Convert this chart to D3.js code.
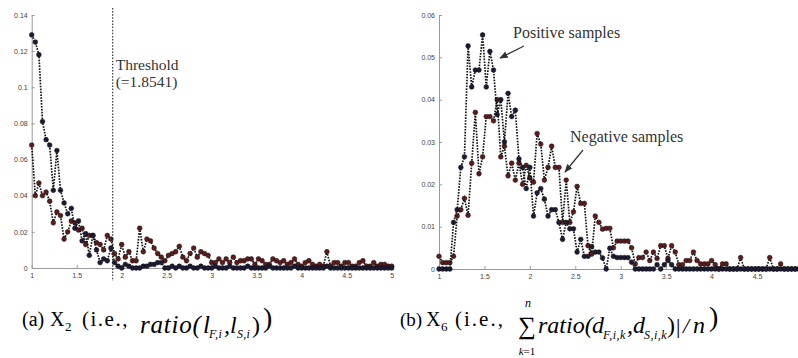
<!DOCTYPE html>
<html><head><meta charset="utf-8">
<script src="https://cdn.jsdelivr.net/npm/d3@7"></script>
<style>body{margin:0;background:#fff}svg{display:block}</style>
</head><body>
<svg id="c" width="798" height="358"></svg>
<script>
// ---------- Panel (a) data : X2 ----------
const xStartA = 1, xStepA = 0.04;
const seriesA1 = [0.129,0.125,0.118,0.081,0.071,0.068,0.043,0.065,0.043,0.036,
  0.030,0.033,0.022,0.026,0.015,0.019,0.007,0.018,0.010,0.003,
  0.005,0.004,0.011,0.003,0.001,0.000,0.002,0.001,0.000,0.000,
  0.000,0.001,0.001,0.002,0.002,0.003,0.003,0.000,0.000,0.001,
  0.000,0.001,0.000,0.000,0.001,0.000,0.000,0.001,0.000,0.000,
  0.000,0.001,0.000,0.000,0.000,0.001,0.000,0.000,0.000,0.000,
  0.001,0.000,0.000,0.000,0.000,0.000,0.001,0.000,0.000,0.000,
  0.000,0.000,0.000,0.001,0.000,0.000,0.000,0.000,0.000,0.000,
  0.000,0.000,0.001,0.000,0.000,0.000,0.000,0.000,0.000,0.000,
  0.000,0.000,0.000,0.000,0.000,0.000,0.000,0.000,0.000,0.000,0.000];
const seriesA2 = [0.068,0.040,0.047,0.040,0.042,0.037,0.025,0.031,0.029,0.016,
  0.020,0.026,0.025,0.021,0.022,0.013,0.018,0.018,0.014,0.013,
  0.010,0.018,0.016,0.008,0.005,0.013,0.006,0.009,0.004,0.004,
  0.022,0.009,0.016,0.015,0.011,0.008,0.006,0.004,0.007,0.008,
  0.009,0.012,0.006,0.004,0.008,0.011,0.006,0.009,0.008,0.007,
  0.003,0.003,0.005,0.003,0.005,0.003,0.006,0.003,0.004,0.004,
  0.005,0.005,0.002,0.005,0.004,0.002,0.002,0.005,0.004,0.003,
  0.004,0.002,0.003,0.005,0.002,0.001,0.003,0.004,0.002,0.001,
  0.002,0.001,0.009,0.001,0.003,0.003,0.001,0.003,0.003,0.001,
  0.001,0.003,0.004,0.001,0.001,0.003,0.001,0.002,0.002,0.001,0.001];
const xTicksA = [1,1.5,2,2.5,3,3.5,4,4.5,5];
const xTickLabelsA = ["1","1.5","2","2.5","3","3.5","4","4.5","5"];
const yTicksA = [0,0.02,0.04,0.06,0.08,0.1,0.12,0.14];
const yTickLabelsA = ["0","0.02","0.04","0.06","0.08","0.1","0.12","0.14"];
const thresholdPos = 1.9;
const thresholdLabel = ["Threshold","(=1.8541)"];

// ---------- Panel (b) data : X6 ----------
const xStartB = 1, xStepB = 0.04;
const positiveB = [0.000,0.000,0.000,0.000,0.011,0.014,0.024,0.0265,0.0527,0.043,
  0.047,0.047,0.0553,0.043,0.0514,0.047,0.0365,0.040,0.030,0.0415,
  0.036,0.0375,0.026,0.024,0.019,0.024,0.0125,0.018,0.019,0.0165,
  0.0125,0.014,0.014,0.011,0.007,0.011,0.0095,0.0095,0.004,0.007,
  0.003,0.003,0.0053,0.004,0.004,0.0026,0.000,0.0049,0.003,0.0027,
  0.0027,0.0027,0.0027,0.0016,0.000,0.000,0.000,0.000,0.000,0.000,
  0.001,0.000,0.001,0.002,0.001,0.000,0.000,0.000,0.000,0.000,
  0.000,0.000,0.000,0.000,0.000,0.000,0.000,0.000,0.000,0.000,
  0.000,0.000,0.000,0.000,0.000,0.000,0.000,0.000,0.000,0.000,
  0.000,0.000,0.000,0.000,0.000,0.000,0.000,0.000,0.000,0.000];
const negativeB = [0.003,0.0015,0.0015,0.0015,0.003,0.0125,0.014,0.0167,0.0127,0.025,
  0.037,0.0225,0.0265,0.036,0.036,0.035,0.040,0.0265,0.029,0.022,
  0.025,0.021,0.025,0.020,0.0245,0.0215,0.0205,0.032,0.0295,0.021,
  0.024,0.029,0.024,0.024,0.011,0.021,0.011,0.0135,0.0195,0.0155,
  0.0155,0.0055,0.0035,0.0125,0.011,0.0094,0.0096,0.0096,0.005,0.0066,
  0.0066,0.0066,0.0066,0.005,0.0012,0.0027,0.0027,0.004,0.002,0.004,
  0.0025,0.0055,0.0055,0.0025,0.0055,0.004,0.001,0.001,0.002,0.002,
  0.004,0.002,0.0012,0.0012,0.0012,0.002,0.001,0.000,0.0012,0.0012,
  0.000,0.000,0.000,0.0027,0.000,0.000,0.000,0.000,0.000,0.000,
  0.000,0.0027,0.000,0.000,0.0012,0.000,0.000,0.000,0.000,0.000];
const xTicksB = [1,1.5,2,2.5,3,3.5,4,4.5];
const xTickLabelsB = ["1","1.5","2","2.5","3","3.5","4","4.5"];
const yTicksB = [0,0.01,0.02,0.03,0.04,0.05,0.06];
const yTickLabelsB = ["0","0.01","0.02","0.03","0.04","0.05","0.06"];
const annotB = ["Positive samples","Negative samples"];

// ---------- drawing ----------
const svg = d3.select("#c");
const serif = "'Liberation Serif','Times New Roman',serif";
const sans = "'Liberation Sans',Arial,sans-serif";
const colDark = "#1d1b33", colRed = "#5e1a1c";

function panel(opt){
  const g = svg.append("g");
  const x = d3.scaleLinear().domain(opt.xDomain).range(opt.xRange);
  const y = d3.scaleLinear().domain(opt.yDomain).range(opt.yRange);
  const ax = g.append("g").attr("transform",`translate(0,${opt.yRange[0]})`)
    .call(d3.axisBottom(x).tickValues(opt.xTicks).tickFormat((d,i)=>opt.xLabels[i]).tickSizeInner(-3).tickSizeOuter(0).tickPadding(5));
  const ay = g.append("g").attr("transform",`translate(${opt.xRange[0]},0)`)
    .call(d3.axisLeft(y).tickValues(opt.yTicks).tickFormat((d,i)=>opt.yLabels[i]).tickSizeInner(-3).tickSizeOuter(0).tickPadding(4));
  [ax,ay].forEach(a=>{
    a.select(".domain").attr("stroke","#9a9a9a").attr("stroke-width",1);
    a.selectAll(".tick line").attr("stroke","#9a9a9a");
    a.selectAll("text").attr("font-family",sans).attr("font-size",7).attr("fill","#444");
  });
  const line = d3.line().x(d=>x(d[0])).y(d=>y(d[1]));
  opt.series.forEach(s=>{
    const pts = s.values.map((v,i)=>[opt.xStart+i*opt.xStep, v]);
    g.append("path").datum(pts).attr("d",line).attr("fill","none")
      .attr("stroke","#111").attr("stroke-width",1.7).attr("stroke-dasharray","1.6,1.3");
    g.selectAll(null).data(pts).enter().append("circle")
      .attr("cx",d=>x(d[0])).attr("cy",d=>y(d[1])).attr("r",2.4)
      .attr("fill",s.color).attr("stroke","#111").attr("stroke-width",0.5);
  });
  return {g,x,y};
}

const A = panel({xDomain:[1,5], xRange:[31.7,391.7], yDomain:[0,0.14], yRange:[268,15],
  xTicks:xTicksA, xLabels:xTickLabelsA, yTicks:yTicksA, yLabels:yTickLabelsA,
  xStart:xStartA, xStep:xStepA,
  series:[{values:seriesA2,color:colRed},{values:seriesA1,color:colDark}]});

A.g.append("line").attr("x1",A.x(thresholdPos)).attr("x2",A.x(thresholdPos))
  .attr("y1",8).attr("y2",281).attr("stroke","#222").attr("stroke-width",1.1)
  .attr("stroke-dasharray","1.5,1.6");
A.g.append("text").attr("x",A.x(thresholdPos)+3).attr("y",70).text(thresholdLabel[0])
  .attr("font-family",serif).attr("font-size",15.5).attr("fill","#333");
A.g.append("text").attr("x",A.x(thresholdPos)+3).attr("y",87).text(thresholdLabel[1])
  .attr("font-family",serif).attr("font-size",15.5).attr("fill","#333");

const B = panel({xDomain:[1,4.96], xRange:[439,798.8], yDomain:[0,0.06], yRange:[269,15],
  xTicks:xTicksB, xLabels:xTickLabelsB, yTicks:yTicksB, yLabels:yTickLabelsB,
  xStart:xStartB, xStep:xStepB,
  series:[{values:negativeB,color:colRed},{values:positiveB,color:colDark}]});

svg.append("defs").append("marker").attr("id","ah").attr("viewBox","0 0 10 10")
  .attr("refX",9).attr("refY",5).attr("markerWidth",7).attr("markerHeight",7).attr("orient","auto")
  .append("path").attr("d","M0,1 L10,5 L0,9 Z").attr("fill","#333");
B.g.append("text").attr("x",513).attr("y",38).text(annotB[0])
  .attr("font-family",serif).attr("font-size",16).attr("fill","#333");
B.g.append("line").attr("x1",524).attr("y1",46).attr("x2",500).attr("y2",58)
  .attr("stroke","#333").attr("stroke-width",1.2).attr("marker-end","url(#ah)");
B.g.append("text").attr("x",570).attr("y",142).text(annotB[1])
  .attr("font-family",serif).attr("font-size",16).attr("fill","#333");
B.g.append("line").attr("x1",583).attr("y1",150).attr("x2",565).attr("y2",172)
  .attr("stroke","#333").attr("stroke-width",1.2).attr("marker-end","url(#ah)");

// ---------- captions ----------
function t(x,y,s,size,opts={}){
  const el = svg.append("text").attr("x",x).attr("y",y).attr("font-family",serif)
    .attr("font-size",size).attr("fill","#000").text(s);
  if(opts.italic) el.attr("font-style","italic");
  if(opts.ls) el.attr("letter-spacing",opts.ls);
  if(opts.anchor) el.attr("text-anchor",opts.anchor);
  return el;
}
// (a)
t(22,326,"(a)",20);
t(50,326,"X",20);
t(65,331,"2",13);
t(82,326,"(i.e.,",21,{ls:1.5});
t(140,333,"ratio(",25,{italic:true,ls:0.8});
t(203,333,"l",25,{italic:true});
t(209,338,"F,i",12,{italic:true,ls:0.3});
t(224,333,",l",24,{italic:true});
t(237,338,"S,i",12,{italic:true,ls:0.3});
t(252,333,")",24);
t(263,327,")",28);
// (b)
t(400,326,"(b)",19);
t(426,326,"X",20);
t(441,331,"6",13);
t(455,326,"(i.e.,",21,{ls:2});
t(527,334,"∑",25,{anchor:"middle"});
t(528,307,"n",12,{italic:true,anchor:"middle"});
const kb = svg.append("text").attr("x",527).attr("y",355).attr("text-anchor","middle")
  .attr("font-family",serif).attr("font-size",11);
kb.append("tspan").attr("font-style","italic").text("k");
kb.append("tspan").text("=1");
t(538,333,"ratio(",24,{italic:true});
t(592,333,"d",24,{italic:true});
t(603,339,"F,i,k",12,{italic:true,ls:0.5});
t(627,333,",d",24,{italic:true});
t(644,339,"S,i,k",12,{italic:true,ls:0.5});
t(667,333,")",24);
t(676,333,"|",22);
t(683,333,"/",22,{italic:true});
t(693,333,"n",24,{italic:true});
t(709,326,")",28);
</script>
</body></html>
